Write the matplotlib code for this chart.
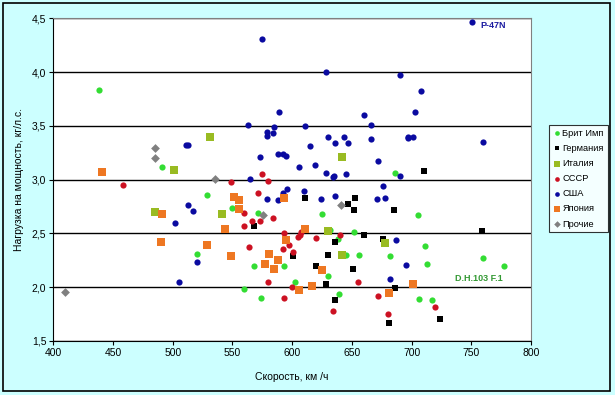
import matplotlib
matplotlib.use("Agg")
import matplotlib.pyplot as plt
from matplotlib.patches import Rectangle
from matplotlib.ticker import FuncFormatter

plt.rcParams['font.family'] = ['Liberation Sans', 'DejaVu Sans']

# ---- data (speed km/h, power loading kg/hp) ----
brit_x = [438, 491, 529, 550, 571, 625, 632, 638, 652, 705, 711, 645, 656, 682, 713,
          760, 777, 630, 602, 568, 593, 520, 560, 574, 639, 706, 717, 686]
brit_y = [3.83, 3.12, 2.86, 2.74, 2.69, 2.68, 2.53, 2.45, 2.51, 2.67, 2.38, 2.30, 2.30, 2.29, 2.22,
          2.27, 2.20, 2.10, 2.05, 2.20, 2.20, 2.31, 1.985, 1.90, 1.935, 1.89, 1.88, 3.06]

ger_x = [611, 568, 601, 620, 630, 628, 653, 647, 652, 685, 636, 660, 676, 651, 686,
         636, 724, 681, 759, 710]
ger_y = [2.83, 2.565, 2.29, 2.20, 2.30, 2.03, 2.83, 2.775, 2.72, 2.72, 2.425, 2.485, 2.45, 2.17, 1.99,
         1.88, 1.70, 1.67, 2.52, 3.085]

ita_x = [501, 531, 541, 485, 630, 642, 678, 642]
ita_y = [3.09, 3.40, 2.68, 2.70, 2.52, 2.30, 2.41, 3.21]

ussr_x = [458, 549, 575, 580, 571, 560, 584, 566, 573, 560, 593, 605, 606.5, 607, 620,
          564, 597, 592, 601, 580, 600, 593, 640, 655, 672, 634, 680, 720]
ussr_y = [2.95, 2.98, 3.05, 2.99, 2.88, 2.69, 2.64, 2.615, 2.62, 2.565, 2.50, 2.47, 2.49, 2.51, 2.46,
          2.37, 2.39, 2.355, 2.33, 2.05, 2.005, 1.90, 2.485, 2.05, 1.915, 1.78, 1.75, 1.815]

usa_x = [575, 628, 751, 690, 708, 703, 589, 660, 563, 585, 611, 666, 579, 579, 584,
         630, 643, 636, 646.5, 666, 697, 697, 701, 760, 511, 513, 615, 573, 588, 592,
         595, 606, 619, 672, 628, 635, 634, 645, 690, 565, 592, 596, 610, 579, 588.5,
         624, 636, 676, 671, 678, 513, 517, 502, 520, 505, 687, 695, 682]
usa_y = [4.31, 4.00, 4.47, 3.97, 3.82, 3.63, 3.63, 3.60, 3.51, 3.49, 3.50, 3.51, 3.44, 3.41, 3.43,
         3.40, 3.40, 3.34, 3.34, 3.38, 3.40, 3.385, 3.40, 3.35, 3.32, 3.32, 3.31, 3.21, 3.24, 3.24,
         3.22, 3.12, 3.14, 3.17, 3.06, 3.03, 3.02, 3.05, 3.03, 3.01, 2.88, 2.91, 2.89, 2.82, 2.81,
         2.82, 2.85, 2.945, 2.82, 2.83, 2.76, 2.71, 2.60, 2.23, 2.05, 2.44, 2.21, 2.08]

jap_x = [441, 551, 555.5, 555.5, 593, 544, 610.5, 595, 529, 581, 549, 588, 577, 585, 625,
         617, 606, 491, 490, 701, 681]
jap_y = [3.07, 2.84, 2.81, 2.73, 2.83, 2.54, 2.54, 2.44, 2.39, 2.31, 2.29, 2.25, 2.215, 2.165, 2.16,
         2.01, 1.97, 2.685, 2.42, 2.03, 1.95]

oth_x = [485, 485, 535, 576, 641, 410]
oth_y = [3.29, 3.20, 3.01, 2.67, 2.76, 1.955]

series = [
    ("Брит Имп", brit_x, brit_y, "#33dd33", "o", 20),
    ("Германия", ger_x, ger_y, "#000000", "s", 20),
    ("Италия", ita_x, ita_y, "#99bb22", "s", 26),
    ("СССР", ussr_x, ussr_y, "#cc1122", "o", 20),
    ("США", usa_x, usa_y, "#0a0aa0", "o", 20),
    ("Япония", jap_x, jap_y, "#ee7722", "s", 26),
    ("Прочие", oth_x, oth_y, "#808080", "D", 20),
]

fig = plt.figure(figsize=(6.15, 3.95), dpi=100)
fig.patch.set_facecolor("#ccffff")
fig.patches.append(Rectangle((3 / 615, 1 - 391 / 395), 607 / 615, 388 / 395,
                             transform=fig.transFigure, fill=False,
                             edgecolor="black", linewidth=1.2))

ax = fig.add_axes([53.3 / 615, 1 - 341 / 395, (531 - 53.3) / 615, (341 - 18.3) / 395])
ax.set_facecolor("white")

for name, xs, ys, col, mk, s in series:
    ax.scatter(xs, ys, s=s, c=col, marker=mk, label=name, linewidths=0, zorder=3)

ax.set_xlim(400, 800)
ax.set_ylim(1.5, 4.5)
ax.set_xticks(range(400, 801, 50))
ax.set_yticks([1.5, 2.0, 2.5, 3.0, 3.5, 4.0, 4.5])
ax.yaxis.set_major_formatter(FuncFormatter(lambda v, p: f"{v:.1f}".replace(".", ",")))
ax.tick_params(axis="both", labelsize=7.5, length=3, width=0.8, direction="out", pad=2)
ax.grid(axis="y", color="black", linewidth=1.0, zorder=1)
ax.set_axisbelow(True)
for sp in ("top", "right"):
    ax.spines[sp].set_color("#808080")
    ax.spines[sp].set_linewidth(0.8)
for sp in ("left", "bottom"):
    ax.spines[sp].set_color("black")
    ax.spines[sp].set_linewidth(0.8)

ax.set_xlabel("Скорость, км /ч", fontsize=7.5, labelpad=10)
ax.set_ylabel("Нагрузка на мощность, кг/л.с.", fontsize=7.5, labelpad=6)

ax.text(758, 4.43, "P-47N", color="#1a1aa0", fontsize=6.5, fontweight="bold",
        ha="left", va="center")
ax.text(756, 2.08, "D.H.103 F.1", color="#339933", fontsize=6.5, fontweight="bold",
        ha="center", va="center")

leg = fig.legend(loc="upper left", bbox_to_anchor=(549 / 615, 1 - 125 / 395),
                 frameon=True, fancybox=False, fontsize=6.7, handletextpad=0.15,
                 handlelength=0.9, borderpad=0.4, labelspacing=0.66, markerscale=0.75,
                 borderaxespad=0)
leg.get_frame().set_edgecolor("black")
leg.get_frame().set_linewidth(0.8)

fig.savefig("out.png", dpi=100, facecolor=fig.get_facecolor())
